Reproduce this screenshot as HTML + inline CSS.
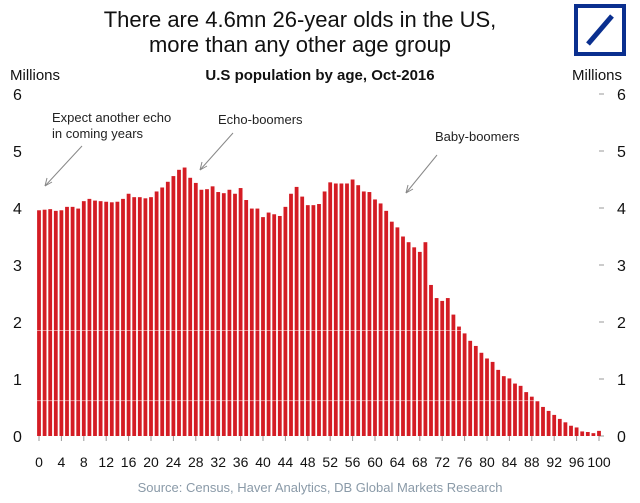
<!DOCTYPE html>
<html><head><meta charset="utf-8"><style>
body{margin:0;background:#fff;width:640px;height:498px;overflow:hidden;font-family:"Liberation Sans",sans-serif}
</style></head><body>
<svg id="chart" width="640" height="498" xmlns="http://www.w3.org/2000/svg" font-family="Liberation Sans, sans-serif">
<text x="300" y="27" font-size="22" text-anchor="middle" fill="#111">There are 4.6mn 26-year olds in the US,</text>
<text x="300" y="52" font-size="22" text-anchor="middle" fill="#111">more than any other age group</text>
<g>
<rect x="576" y="6" width="48" height="48" fill="none" stroke="#0a2f8f" stroke-width="4"/>
<line x1="588" y1="44" x2="612" y2="16" stroke="#0a2f8f" stroke-width="5"/>
</g>
<text x="320" y="80" font-size="15" font-weight="bold" text-anchor="middle" fill="#111">U.S population by age, Oct-2016</text>
<text x="10" y="80" font-size="15" fill="#111">Millions</text>
<text x="572" y="80" font-size="15" fill="#111">Millions</text>
<g id="axes"></g>
<g id="bars"></g>
<g font-size="13" fill="#222">
<text x="52" y="122">Expect another echo</text>
<text x="52" y="138">in coming years</text>
<line x1="82" y1="146" x2="45" y2="186" stroke="#888" stroke-width="1"/>
<path d="M45 186 L47 178 M45 186 L52 182" stroke="#888" fill="none"/>
<text x="218" y="124">Echo-boomers</text>
<line x1="233" y1="133" x2="200" y2="170" stroke="#888"/>
<path d="M200 170 L202 162 M200 170 L207 166" stroke="#888" fill="none"/>
<text x="435" y="141">Baby-boomers</text>
<line x1="437" y1="155" x2="406" y2="193" stroke="#888"/>
<path d="M406 193 L408 185 M406 193 L413 189" stroke="#888" fill="none"/>
</g>
<text x="320" y="492" font-size="13" text-anchor="middle" fill="#8a9aa8">Source: Census, Haver Analytics, DB Global Markets Research</text>
</svg>
<script>
const ages = Array.from({length:101},(_,i)=>i);
const population = [3.96,3.97,3.98,3.95,3.96,4.02,4.02,3.99,4.12,4.16,4.13,4.12,4.11,4.10,4.11,4.16,4.25,4.19,4.19,4.17,4.19,4.29,4.36,4.46,4.56,4.67,4.71,4.53,4.44,4.32,4.33,4.38,4.28,4.26,4.32,4.25,4.35,4.14,3.99,3.99,3.84,3.92,3.89,3.86,4.02,4.25,4.37,4.20,4.05,4.05,4.07,4.29,4.45,4.43,4.43,4.43,4.50,4.40,4.29,4.28,4.15,4.08,3.95,3.76,3.66,3.50,3.40,3.31,3.23,3.40,2.65,2.42,2.37,2.42,2.13,1.92,1.80,1.67,1.58,1.46,1.36,1.30,1.16,1.05,1.01,0.92,0.88,0.77,0.69,0.61,0.51,0.44,0.37,0.30,0.24,0.18,0.15,0.08,0.07,0.05,0.09];
const yTicks = [0,1,2,3,4,5,6];
const xTickLabels = [0,4,8,12,16,20,24,28,32,36,40,44,48,52,56,60,64,68,72,76,80,84,88,92,96,100];
const NS="http://www.w3.org/2000/svg";
const y0=436, pxPer=57, x0=39, step=5.6;
const yScale=v=>y0-v*pxPer;
const xScale=a=>x0+a*step;
const axes=document.getElementById('axes'), bars=document.getElementById('bars');
function mk(tag,attrs,parent){const e=document.createElementNS(NS,tag);for(const k in attrs)e.setAttribute(k,attrs[k]);parent.appendChild(e);return e;}
yTicks.forEach(t=>{
 const l=mk('text',{x:13,y:yScale(t)+6,'font-size':16,fill:'#111'},axes);l.textContent=t;
 
 
 const r=mk('text',{x:617,y:yScale(t)+6,'font-size':16,fill:'#111'},axes);r.textContent=t;
 
 
 const m=mk('line',{x1:599,x2:604,y1:yScale(t),y2:yScale(t),stroke:'#999'},axes);
 
 
});
xTickLabels.forEach(a=>{
 const t=mk('text',{x:xScale(a),y:467,'font-size':14,'text-anchor':'middle',fill:'#111'},axes);t.textContent=a;
 
 
 const m=mk('line',{x1:xScale(a),x2:xScale(a),y1:y0,y2:y0+5,stroke:'#999'},axes);
 
 
});
ages.forEach((a,i)=>{
 const v=population[i];
 const b=mk('rect',{x:xScale(a)-1.9,y:yScale(v),width:3.8,height:v*pxPer,fill:'#d41c24'},bars);
 
 
});
[1.85,0.62].forEach(v=>{
 const g=mk('line',{x1:35,x2:600,y1:yScale(v),y2:yScale(v),stroke:'#fff','stroke-opacity':0.5,'stroke-width':1},bars);
 
 
});
</script>
</body></html>
